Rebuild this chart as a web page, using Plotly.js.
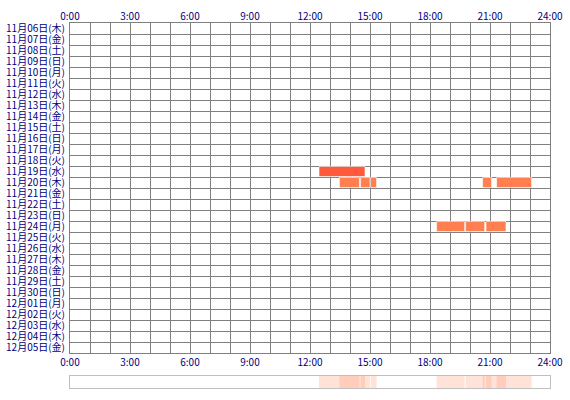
<!DOCTYPE html>
<html>
<head>
<meta charset="utf-8">
<script src="https://cdn.plot.ly/plotly-3.0.1.min.js"></script>
<style>html,body{margin:0;padding:0;background:#fff;}#chart{width:570px;height:400px;}</style>
</head>
<body>
<div id="chart"></div>
<script>
const days = ['11月06日(木)','11月07日(金)','11月08日(土)','11月09日(日)','11月10日(月)','11月11日(火)','11月12日(水)','11月13日(木)','11月14日(金)','11月15日(土)','11月16日(日)','11月17日(月)','11月18日(火)','11月19日(水)','11月20日(木)','11月21日(金)','11月22日(土)','11月23日(日)','11月24日(月)','11月25日(火)','11月26日(水)','11月27日(木)','11月28日(金)','11月29日(土)','11月30日(日)','12月01日(月)','12月02日(火)','12月03日(水)','12月04日(木)','12月05日(金)'];
const hourTicks = [0,3,6,9,12,15,18,21,24];
const hourLabels = ['0:00','3:00','6:00','9:00','12:00','15:00','18:00','21:00','24:00'];
const segDay = ['11月19日(水)','11月20日(木)','11月20日(木)','11月20日(木)','11月20日(木)','11月20日(木)','11月24日(月)','11月24日(月)','11月24日(月)'];
const segStart = [12.45, 13.47, 14.53, 15.03, 20.63, 21.33, 18.33, 19.78, 20.80];
const segEnd   = [14.75, 14.47, 15.00, 15.33, 21.08, 23.08, 19.73, 20.73, 21.80];
const segColor = ['#FF5A3C','#FF7F50','#FF7F50','#FF7F50','#FF7F50','#FF7F50','#FF7F50','#FF7F50','#FF7F50'];

const dur = segEnd.map((e,i)=>e-segStart[i]);
const navy = '#000080';
const font = {family:'"Noto Sans CJK JP", "DejaVu Sans", sans-serif', size:10, color:navy};

const traces = [
  {type:'bar', orientation:'h', y:segDay, x:dur, base:segStart, width:0.92,
   marker:{color:segColor, line:{color:'#ffffff', width:0.6}}, xaxis:'x', yaxis:'y', hoverinfo:'skip', showlegend:false},
  {type:'scatter', mode:'markers', x:[0,24], y:[days[0],days[0]], xaxis:'x2', yaxis:'y',
   marker:{opacity:0}, hoverinfo:'skip', showlegend:false},
  {type:'bar', orientation:'h', y:segDay.map(()=> 'all'), x:dur, base:segStart, width:1,
   marker:{color:'rgba(255,127,80,0.22)', line:{width:0}}, xaxis:'x3', yaxis:'y3', hoverinfo:'skip', showlegend:false}
];

const gridCol = '#808080';
const layout = {
  width:570, height:400,
  margin:{l:70, r:20, t:23, b:12},
  paper_bgcolor:'#fff', plot_bgcolor:'#fff',
  font:font, showlegend:false, barmode:'overlay',
  xaxis:{domain:[0,1], anchor:'y', range:[0,24], tickmode:'array', tickvals:hourTicks, ticktext:hourLabels,
    showgrid:true, gridcolor:gridCol, gridwidth:1, zeroline:false,
    minor:{dtick:1, tick0:0, showgrid:true, gridcolor:gridCol, gridwidth:1},
    showline:true, linecolor:gridCol, mirror:true, ticks:'', tickfont:font, fixedrange:true},
  xaxis2:{overlaying:'x', side:'top', anchor:'y', range:[0,24], tickmode:'array', tickvals:hourTicks, ticktext:hourLabels,
    showgrid:false, zeroline:false, ticks:'', tickfont:font, fixedrange:true},
  yaxis:{domain:[35/365,1], anchor:'x', type:'category', categoryarray:days, categoryorder:'array',
    tickmode:'array', tickvals:days, ticktext:days, ticklabelstandoff:2,
    range:[days.length-0.5,-0.5], tickson:'boundaries', showgrid:true, gridcolor:gridCol, gridwidth:1,
    showline:true, linecolor:gridCol, mirror:true, ticks:'', tickfont:font, zeroline:false, fixedrange:true},
  xaxis3:{domain:[0,1], anchor:'y3', range:[0,24], showticklabels:false, showgrid:false, zeroline:false,
    showline:true, linecolor:'#C0C0C0', mirror:true, ticks:'', fixedrange:true},
  yaxis3:{domain:[0,12/365], anchor:'x3', type:'category', range:[-0.5,0.5], showticklabels:false,
    showgrid:false, zeroline:false, showline:true, linecolor:'#C0C0C0', mirror:true, ticks:'', fixedrange:true}
};
Plotly.newPlot('chart', traces, layout, {displayModeBar:false, staticPlot:true});
</script>
</body>
</html>
